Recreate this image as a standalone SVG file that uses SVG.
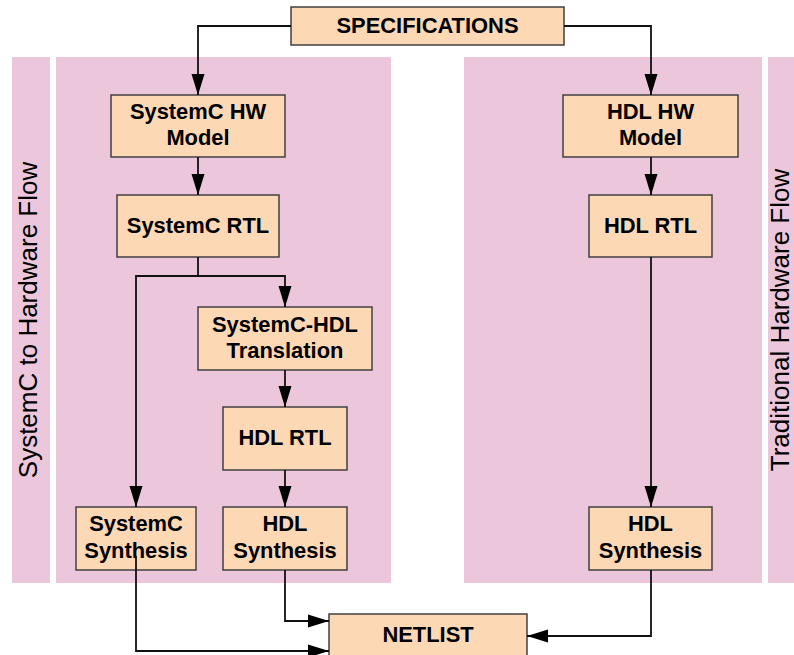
<svg xmlns="http://www.w3.org/2000/svg" width="794" height="655" viewBox="0 0 794 655">
<style>
.panel{fill:#ECC6DA}
.box{fill:#FDD8B5;stroke:#404040;stroke-width:1.5}
.t{font-family:"Liberation Sans",Arial,sans-serif;font-weight:bold;font-size:21.9px;text-anchor:middle;fill:#000}
.side{font-family:"Liberation Sans",Arial,sans-serif;font-size:26px;text-anchor:middle;fill:#000}
.c{fill:none;stroke:#111;stroke-width:1.8}
</style>
<defs>
<marker id="ah" markerUnits="userSpaceOnUse" markerWidth="21" markerHeight="14" refX="21" refY="7" orient="auto">
<path d="M0,0.5 L21,7 L0,13.5 Z" fill="#000"/>
</marker>
</defs>
<g id="panels">
<rect class="panel" x="12" y="57" width="38" height="526"/>
<rect class="panel" x="56" y="57" width="335" height="526"/>
<rect class="panel" x="464" y="57" width="298" height="526"/>
<rect class="panel" x="768" y="57" width="30" height="526"/>
<text class="side" transform="translate(37,320) rotate(-90)">SystemC to Hardware Flow</text>
<text class="side" transform="translate(789,320) rotate(-90)">Traditional Hardware Flow</text>
</g>
<g id="specifications"><rect class="box" x="291" y="7" width="273" height="38"/><text class="t" x="427.5" y="33">SPECIFICATIONS</text></g>
<g id="systemc-hw-model"><rect class="box" x="111" y="95" width="174" height="62"/><text class="t" x="198" y="119">SystemC HW</text><text class="t" x="198" y="145">Model</text></g>
<g id="systemc-rtl"><rect class="box" x="117" y="195" width="162" height="62"/><text class="t" x="198" y="233">SystemC RTL</text></g>
<g id="translation"><rect class="box" x="198" y="307" width="174" height="63"/><text class="t" x="285" y="332">SystemC-HDL</text><text class="t" x="285" y="358">Translation</text></g>
<g id="hdl-rtl-left"><rect class="box" x="223" y="407" width="124" height="63"/><text class="t" x="285" y="445">HDL RTL</text></g>
<g id="systemc-synthesis"><rect class="box" x="76" y="507" width="120" height="63"/><text class="t" x="136" y="531">SystemC</text><text class="t" x="136" y="558">Synthesis</text></g>
<g id="hdl-synthesis-left"><rect class="box" x="223" y="507" width="124" height="63"/><text class="t" x="285" y="531">HDL</text><text class="t" x="285" y="558">Synthesis</text></g>
<g id="hdl-hw-model"><rect class="box" x="563" y="95" width="175" height="62"/><text class="t" x="650.5" y="119">HDL HW</text><text class="t" x="650.5" y="145">Model</text></g>
<g id="hdl-rtl-right"><rect class="box" x="589" y="195" width="123" height="62"/><text class="t" x="650.5" y="233">HDL RTL</text></g>
<g id="hdl-synthesis-right"><rect class="box" x="589" y="507" width="123" height="63"/><text class="t" x="650.5" y="531">HDL</text><text class="t" x="650.5" y="558">Synthesis</text></g>
<g id="netlist"><rect class="box" x="329" y="614" width="198" height="44"/><text class="t" x="428" y="642">NETLIST</text></g>
<g id="connectors">
<path class="c" d="M291,26 H198 V95" marker-end="url(#ah)"/>
<path class="c" d="M564,26 H651 V95" marker-end="url(#ah)"/>
<path class="c" d="M198,157 V195" marker-end="url(#ah)"/>
<path class="c" d="M651,157 V195" marker-end="url(#ah)"/>
<path class="c" d="M198,257 V276 H285 V307" marker-end="url(#ah)"/>
<path class="c" d="M198,276 H136 V507" marker-end="url(#ah)"/>
<path class="c" d="M285,370 V407" marker-end="url(#ah)"/>
<path class="c" d="M285,470 V507" marker-end="url(#ah)"/>
<path class="c" d="M651,257 V507" marker-end="url(#ah)"/>
<path class="c" d="M285,570 V621 H329" marker-end="url(#ah)"/>
<path class="c" d="M136,556 V651 H329" marker-end="url(#ah)"/>
<path class="c" d="M651,570 V636 H527" marker-end="url(#ah)"/>
</g>
</svg>
